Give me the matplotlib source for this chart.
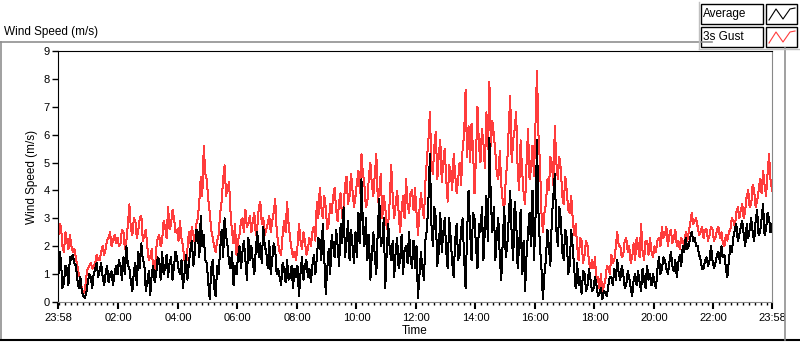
import numpy as np
import matplotlib
matplotlib.use("Agg")
import matplotlib.pyplot as plt
from matplotlib.lines import Line2D
from matplotlib.patches import Rectangle

plt.rcParams['font.family'] = ['Liberation Sans', 'DejaVu Sans']

# 3-minute samples since 23:58, read/
step_min = 3
gust = [
    2.2,2.8,2.7,2.0,1.8,2.5,2.2,1.9,2.4,2.0,1.8,1.9,1.6,1.3,1.0,0.8,0.5,0.3,0.4,0.9,1.2,1.3,1.4,1.2,1.3,1.4,1.7,1.5,1.5,1.8,2.0,1.7,1.9,2.2,2.3,2.5,2.0,2.2,2.4,2.1,
    2.3,2.0,2.1,2.6,2.5,1.9,2.2,2.8,3.5,2.6,2.4,3.0,2.9,2.3,2.6,3.0,3.1,2.2,2.4,2.6,2.0,1.5,1.6,1.9,1.2,1.0,1.9,2.3,2.4,2.0,2.2,2.9,2.7,2.3,3.4,2.6,2.8,3.3,3.0,2.5,
    2.6,2.2,2.9,2.3,2.0,1.5,1.2,1.9,2.5,2.1,2.7,2.4,2.1,2.8,3.0,3.6,4.5,3.8,5.6,4.6,4.4,3.7,3.2,2.6,2.3,2.0,1.8,2.2,2.4,3.2,3.6,4.4,4.9,3.8,4.1,4.3,3.2,2.5,2.1,2.8,
    1.7,2.2,2.4,2.9,3.0,2.5,3.3,2.7,2.8,3.1,2.5,2.9,3.2,2.4,2.7,3.4,3.6,2.8,3.0,2.4,2.6,2.8,3.1,2.5,2.9,3.2,3.7,2.6,2.1,1.8,1.7,2.4,2.9,2.5,3.6,2.8,2.3,1.9,1.6,1.8,
    1.5,2.0,2.8,2.2,1.9,2.5,2.2,1.7,1.9,2.3,2.0,2.5,2.7,2.2,3.6,3.0,4.1,3.4,3.0,3.8,3.4,2.6,2.8,3.5,3.2,3.8,4.1,3.3,2.9,3.6,3.9,3.0,3.4,4.2,4.5,3.5,3.8,4.6,4.0,3.4,
    3.8,4.3,4.7,3.9,5.3,4.6,4.2,3.4,3.6,4.5,5.0,4.2,3.8,4.6,5.3,3.6,4.0,4.6,3.0,3.8,3.4,2.6,2.8,3.6,4.9,3.8,3.0,3.5,4.0,3.2,2.5,3.3,3.8,3.0,4.4,3.5,3.2,3.9,4.0,3.3,
    4.1,3.2,2.4,3.3,3.9,3.4,3.0,4.3,5.1,5.8,6.8,5.0,4.6,5.6,6.1,4.4,5.3,5.8,4.3,5.0,5.5,4.4,3.6,4.9,4.7,4.0,5.3,4.6,3.9,4.4,5.0,4.2,5.5,6.0,7.6,5.2,6.3,5.0,6.4,5.5,
    3.9,5.2,7.0,5.6,5.0,6.2,5.7,4.8,6.8,5.5,7.9,5.6,6.5,6.0,5.4,4.6,4.4,5.4,4.2,3.6,3.3,4.4,5.0,6.2,7.4,5.0,5.8,6.2,6.8,4.8,4.0,5.8,4.7,3.9,3.5,5.0,6.2,4.4,4.8,5.6,
    4.5,6.4,8.3,6.0,5.0,3.2,2.5,3.2,3.5,4.4,4.0,5.2,5.0,4.2,6.3,5.0,4.4,5.2,4.8,3.8,3.5,4.5,4.0,3.3,3.2,3.8,3.0,2.4,2.8,2.0,1.5,2.3,2.2,1.4,1.7,2.2,2.0,1.4,1.2,1.5,
    1.2,1.6,0.7,0.9,0.5,1.0,0.3,0.6,0.8,1.3,1.2,1.0,1.7,1.4,1.5,2.0,2.5,2.0,2.0,1.6,1.7,2.2,2.3,1.8,2.0,1.4,1.6,2.1,1.5,2.3,2.0,1.6,2.8,1.8,1.5,2.2,2.2,1.7,2.3,1.8,
    1.6,2.0,1.8,2.2,2.3,2.0,2.7,2.3,2.4,2.7,2.0,2.4,2.6,2.1,2.3,2.6,2.0,2.2,1.9,2.3,2.2,2.0,2.5,2.2,2.5,2.8,3.2,2.8,2.9,3.0,2.7,2.4,2.5,2.7,2.3,2.6,2.6,2.2,2.4,2.7,
    2.6,2.2,2.3,2.6,2.7,2.3,2.5,2.1,2.0,2.4,2.2,2.5,2.6,3.0,2.9,2.7,3.2,3.4,3.0,3.3,3.5,3.0,3.3,3.8,4.0,3.4,3.5,4.2,4.0,3.4,3.6,4.0,4.4,3.9,4.7,4.2,3.8,4.6,5.3,4.4,4.0,
]
average = [
    0.6,1.8,1.5,0.5,0.7,1.3,1.2,0.6,1.6,1.5,1.7,1.4,1.3,0.8,0.5,0.9,0.4,0.2,0.15,0.3,0.7,1.0,0.9,0.5,1.0,1.2,1.4,0.9,1.1,1.4,0.9,0.6,1.0,1.3,0.7,1.0,1.1,0.6,1.0,1.3,
    1.0,1.5,1.3,0.8,1.6,1.0,2.0,1.3,1.2,0.7,0.4,1.1,1.4,0.6,1.8,1.2,2.1,1.5,1.4,0.4,0.7,1.1,0.25,1.0,1.3,0.7,1.0,1.6,1.5,0.8,1.8,1.0,1.2,1.7,0.9,1.4,1.6,0.8,1.3,1.8,
    1.6,1.2,1.0,1.5,0.5,1.0,1.7,0.8,1.4,1.9,2.2,1.3,1.8,2.6,2.5,1.6,3.1,2.0,2.4,1.5,1.4,0.7,0.1,1.2,1.5,0.5,0.2,1.3,1.0,1.9,2.6,1.6,3.0,2.4,2.0,1.4,1.2,1.8,0.6,1.3,
    1.0,1.6,2.0,1.2,1.8,2.2,1.5,0.8,2.3,1.5,2.0,1.4,1.0,1.9,2.5,1.6,2.1,1.4,2.7,2.0,1.8,1.2,2.2,1.0,1.5,2.1,1.9,1.0,1.2,0.9,0.6,1.4,1.2,0.7,1.5,0.8,0.9,1.3,0.5,1.2,
    0.9,1.3,0.2,1.0,1.6,0.8,1.3,1.5,0.9,1.2,0.7,1.3,1.7,1.0,1.6,2.3,2.2,1.5,2.8,1.6,0.3,1.2,1.9,1.0,2.4,2.0,1.6,2.6,2.0,1.3,2.8,2.1,3.4,1.6,2.2,2.9,1.5,2.6,2.0,1.4,
    2.5,1.6,3.2,2.1,4.4,2.7,2.0,3.0,1.5,2.4,0.8,1.7,2.5,1.6,1.0,2.6,3.7,2.0,2.2,3.0,0.5,1.8,2.8,1.9,1.5,2.2,0.9,1.8,2.3,1.2,1.5,2.4,1.0,1.9,2.0,1.4,2.5,1.6,1.2,2.2,
    1.2,2.0,0.15,1.0,1.8,1.2,0.8,2.2,2.6,3.6,5.3,2.8,2.0,3.4,3.0,1.3,1.8,3.2,1.8,2.5,3.0,1.8,1.2,3.0,2.3,1.4,0.9,2.2,2.8,1.5,1.7,2.6,3.0,1.6,0.5,2.4,4.0,2.6,1.5,3.2,
    3.0,2.0,1.2,2.8,2.5,3.4,1.5,2.6,3.8,2.2,5.9,3.6,2.5,3.4,1.5,2.4,3.0,1.6,0.8,2.2,3.4,1.6,2.0,3.0,4.0,2.4,1.5,3.6,3.0,1.2,2.0,3.3,1.0,2.2,0.4,1.7,2.5,3.2,2.0,4.0,
    1.5,3.0,5.8,3.2,2.0,1.2,0.1,1.0,1.5,2.6,2.0,1.3,3.0,3.8,4.6,2.6,2.0,3.4,3.0,1.8,1.5,2.6,2.3,1.0,1.3,2.6,2.0,1.2,0.5,1.4,0.6,0.9,0.3,1.1,1.0,0.4,0.6,1.2,0.8,0.4,
    0.5,0.9,0.6,0.2,0.3,0.5,0.1,0.4,0.3,0.2,0.6,0.9,0.9,0.6,1.2,0.8,1.5,1.0,0.8,1.3,1.0,0.5,0.6,1.1,0.9,0.5,0.2,0.8,1.0,0.6,1.1,0.7,0.4,1.2,0.8,0.5,1.3,0.8,1.0,0.6,
    1.0,0.7,0.5,1.2,1.6,1.0,1.2,1.6,1.5,1.2,1.0,1.4,1.8,1.3,1.1,1.5,0.9,1.4,1.7,1.3,2.0,1.8,2.3,1.9,2.0,2.3,2.5,2.2,2.3,2.0,2.0,1.7,1.5,1.2,1.2,1.5,1.6,1.3,1.5,2.0,
    1.5,1.2,1.4,1.7,1.8,1.4,2.0,1.6,1.7,1.2,0.9,1.5,2.0,1.8,2.3,2.6,2.8,2.2,2.4,2.7,2.9,2.4,2.0,2.8,2.3,2.6,3.0,2.5,2.2,2.9,3.3,2.4,2.5,3.0,3.5,2.4,2.6,3.2,3.0,2.5,2.8,
]
tick_labels = ["23:58", "02:00", "04:00", "06:00", "08:00", "10:00",
               "12:00", "14:00", "16:00", "18:00", "20:00", "22:00", "23:58"]
tick_minutes = [0, 122, 242, 362, 482, 602, 722, 842, 962, 1082, 1202, 1322, 1440]
series_names = ["Average", "3s Gust"]

t = np.arange(len(gust)) * step_min

fig = plt.figure(figsize=(8.0, 3.42), dpi=100)
ax = fig.add_axes([58/800, 1-302/342, (772-58)/800, (302-51)/342])

red = "#ff3c3c"
ax.plot(t, gust, color=red, lw=0.72, antialiased=False)
ax.plot(t, average, color="black", lw=0.72, antialiased=False)

ax.set_xlim(0, 1440)
ax.set_ylim(0, 9)
ax.set_yticks(range(0, 10))
ax.set_xticks(tick_minutes)
ax.set_xticklabels(tick_labels)
minor = [m for m in range(2, 1440, 12) if m not in tick_minutes]
ax.set_xticks(minor, minor=True)
ax.tick_params(axis='both', which='major', labelsize=8, length=4, width=1, color='black', pad=2)
ax.tick_params(axis='x', which='minor', length=2.5, width=1, color='black')
ax.tick_params(axis='x', which='major', length=5, width=1.5, pad=3)
for s in ['left', 'top']:
    ax.spines[s].set_color('black')
for s in ['right', 'bottom']:
    ax.spines[s].set_color('#888888')
ax.set_ylabel("Wind Speed (m/s)", fontsize=8.5, labelpad=4)
ax.set_xlabel("Time", fontsize=8.5, labelpad=1)

# outer panel decorations
fig.add_artist(Line2D([1/800, 1/800], [2/342, 1-42/342], color='#909090', lw=1.2, transform=fig.transFigure))
fig.add_artist(Line2D([0, 712/800], [1-42/342, 1-42/342], color='#909090', lw=1.2, transform=fig.transFigure))
fig.add_artist(Line2D([0, 1], [2/342, 2/342], color='black', lw=1.5, transform=fig.transFigure))
fig.add_artist(Line2D([785/800, 785/800], [2/342, 1-48/342], color='#909090', lw=1.2, transform=fig.transFigure))
fig.text(4/800, 1-32/342, "Wind Speed (m/s)", fontsize=8.5, va='center', ha='left')

# legend boxes
colors = ["black", red]
for k, (name, c) in enumerate(zip(series_names, colors)):
    top = 4 + k * 23
    h = 20
    fig.add_artist(Rectangle((701/800, 1-(top+h)/342), 62/800, h/342, transform=fig.transFigure,
                             facecolor='white', edgecolor='black', lw=1))
    fig.text(703/800, 1-(top+h/2)/342, name, fontsize=8.5, va='center', ha='left')
    fig.add_artist(Rectangle((766/800, 1-(top+h)/342), 31/800, h/342, transform=fig.transFigure,
                             facecolor='white', edgecolor='black', lw=1))
    zx = np.array([769, 776, 783, 790, 795]) / 800
    zy = 1 - (top + np.array([16, 5, 15, 5, 4])) / 342
    fig.add_artist(Line2D(zx, zy, color=c, lw=0.8, transform=fig.transFigure))
fig.add_artist(Line2D([699/800, 699/800], [1-49/342, 1-2/342], color='#c0c0c0', lw=1, transform=fig.transFigure))
fig.add_artist(Line2D([699/800, 799/800], [1-49/342, 1-49/342], color='#c0c0c0', lw=1, transform=fig.transFigure))

fig.savefig("out.png", dpi=100)
